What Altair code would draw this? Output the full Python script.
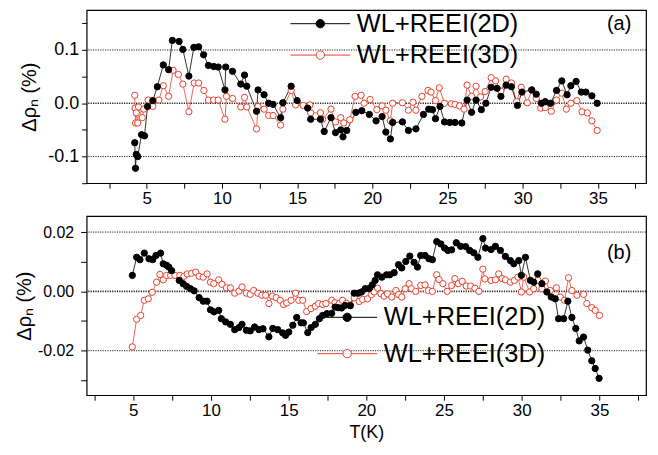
import altair as alt
import pandas as pd

S2 = "WL+REEI(2D)"
S3 = "WL+REEI(3D)"
RED = "#e8402a"
FONT = "Liberation Sans"

# ---------------- panel (a) ----------------
T_A2 = [4.2, 4.25, 4.3, 4.4, 4.65, 4.85, 5.05, 5.4, 5.7, 6.1, 6.45, 6.7, 7.15, 7.4, 7.8, 8.13, 8.45, 8.78,
        9.1, 9.45, 9.75, 10.2, 10.25, 10.7, 11.25, 11.5, 11.65, 12.3, 12.4, 12.8, 13.1, 13.4, 13.9, 14.05,
        14.6, 15.0, 15.7, 15.9, 16.55, 16.8, 17.25, 17.55, 17.9, 18.05, 18.3, 18.9, 19.3, 19.8, 20.25,
        20.65, 20.9, 21.2, 21.35, 22.0, 22.4, 22.9, 23.4, 23.75, 24.0, 24.2, 24.5, 24.8, 25.15, 25.5,
        25.95, 26.3, 26.6, 26.9, 27.25, 27.55, 27.9, 28.3, 28.55, 28.9, 29.25, 29.65, 29.95, 30.6, 30.9,
        31.25, 31.5, 31.85, 32.25, 32.6, 32.95, 33.2, 33.55, 33.9, 34.2, 34.6, 34.95]
V_A2 = [-0.074, -0.122, -0.096, -0.100, -0.059, -0.061, -0.006, 0.005, 0.031, 0.072, 0.063, 0.118, 0.116,
        0.101, 0.051, 0.105, 0.106, 0.091, 0.071, 0.069, 0.068, 0.025, 0.068, 0.060, 0.036, 0.053, 0.032,
        -0.015, 0.025, 0.016, 0.000, -0.002, -0.027, 0.001, 0.032, 0.005, -0.009, -0.030, -0.030, -0.053,
        -0.027, -0.055, -0.050, -0.063, -0.051, -0.017, -0.014, -0.021, -0.033, -0.025, -0.054, -0.067,
        -0.036, -0.035, -0.051, -0.048, -0.021, -0.011, -0.012, -0.029, -0.006, -0.035, -0.036, -0.036,
        -0.037, 0.006, -0.017, 0.006, -0.012, 0.000, 0.030, 0.028, 0.013, 0.034, 0.031, -0.004, 0.021,
        0.025, 0.017, 0.000, 0.003, 0.000, 0.024, 0.042, 0.016, 0.033, 0.041, 0.021, 0.021, 0.014, 0.000]

T_A3 = [4.2, 4.22, 4.25, 4.3, 4.4, 4.45, 4.7, 4.8, 5.1, 5.4, 5.8, 6.1, 6.45, 6.75, 7.1, 7.4, 7.8, 8.15, 8.45,
        8.8, 9.1, 9.45, 9.75, 10.2, 10.3, 10.7, 11.25, 11.5, 11.65, 12.3, 12.4, 12.8, 13.1, 13.4, 13.9,
        14.05, 14.6, 14.9, 15.4, 15.85, 15.9, 16.55, 16.7, 17.25, 17.55, 17.9, 18.1, 18.5, 18.85, 19.25,
        19.45, 19.85, 20.3, 20.65, 20.9, 21.2, 21.35, 22.0, 22.4, 22.7, 22.9, 23.3, 23.7, 23.9, 24.2,
        24.45, 24.8, 25.25, 25.5, 25.8, 26.1, 26.3, 26.6, 26.9, 27.2, 27.5, 27.9, 28.2, 28.55, 28.9, 29.25,
        29.6, 29.9, 30.3, 30.6, 30.9, 31.2, 31.5, 31.9, 32.25, 32.6, 32.9, 33.2, 33.6, 33.95, 34.3, 34.6,
        34.95]
V_A3 = [0.015, -0.009, -0.037, -0.018, -0.037, -0.007, -0.027, -0.011, 0.006, -0.006, 0.006, 0.033, 0.013,
        0.062, 0.054, 0.036, -0.016, 0.038, 0.038, 0.024, 0.006, 0.006, 0.006, -0.030, 0.013, 0.009,
        -0.007, 0.011, -0.007, -0.048, -0.006, -0.011, -0.023, -0.023, -0.041, -0.011, 0.024, -0.003,
        -0.004, -0.003, -0.018, -0.018, -0.030, -0.011, -0.035, -0.027, -0.037, -0.031, 0.013, 0.015,
        0.000, 0.007, -0.012, -0.005, -0.013, -0.033, 0.000, 0.001, -0.013, 0.002, -0.013, 0.013, 0.024,
        0.021, 0.005, 0.029, 0.000, -0.001, -0.002, -0.005, -0.011, 0.034, 0.013, 0.032, 0.012, 0.022,
        0.048, 0.042, 0.023, 0.045, 0.038, 0.003, 0.030, 0.001, 0.025, 0.009, -0.009, -0.008, -0.015,
        0.006, 0.019, -0.011, 0.000, 0.005, -0.016, -0.018, -0.033, -0.051]

# ---------------- panel (b) ----------------
T_B2 = [4.94, 5.22, 5.43, 5.71, 6.01, 6.25, 6.46, 6.76, 6.93, 7.15, 7.29, 7.47, 7.96, 8.21, 8.43, 8.68, 8.92,
        9.24, 9.5, 9.75, 9.97, 10.2, 10.5, 10.67, 10.95, 11.25, 11.53, 11.8, 12.0, 12.28, 12.53, 12.81,
        13.09, 13.35, 13.73, 13.98, 14.3, 14.62, 14.8, 15.01, 15.27, 15.52, 15.8, 15.95, 16.23, 16.45,
        16.72, 16.98, 17.19, 17.47, 17.77, 17.99, 18.2, 18.41, 18.65, 18.97, 19.22, 19.48, 19.69, 19.93,
        20.19, 20.38, 20.57, 20.72, 21.0, 21.3, 21.51, 21.79, 22.07, 22.28, 22.54, 22.8, 23.07, 23.29,
        23.5, 23.78, 24.03, 24.25, 24.53, 24.79, 25.04, 25.25, 25.49, 25.79, 26.07, 26.39, 26.65, 26.92,
        27.18, 27.5, 27.67, 28.03, 28.31, 28.63, 28.95, 29.27, 29.49, 29.81, 29.98, 30.24, 30.56, 30.77,
        31.03, 31.3, 31.62, 31.9, 32.16, 32.37, 32.7, 32.97, 33.23, 33.48, 33.7, 33.98, 34.25, 34.51,
        34.73, 34.98]
V_B2 = [0.0054, 0.0115, 0.0107, 0.0129, 0.0110, 0.0107, 0.0121, 0.0129, 0.0093, 0.0088, 0.0082, 0.0070,
        0.0037, 0.0026, 0.0017, 0.0009, 0.0002, -0.0021, -0.0033, -0.0033, -0.0062, -0.0069, -0.0064,
        -0.0092, -0.0103, -0.0111, -0.0129, -0.0122, -0.0111, -0.0131, -0.0133, -0.0120, -0.0129, -0.0126,
        -0.0153, -0.0125, -0.0129, -0.0140, -0.0148, -0.0137, -0.0114, -0.0088, -0.0106, -0.0106, -0.0139,
        -0.0122, -0.0111, -0.0092, -0.0081, -0.0075, -0.0074, -0.0053, -0.0055, -0.0056, -0.0047, -0.0048,
        -0.0006, -0.0006, -0.0002, 0.0009, 0.0010, 0.0022, 0.0037, 0.0056, 0.0048, 0.0056, 0.0056, 0.0063,
        0.0090, 0.0079, 0.0101, 0.0119, 0.0098, 0.0082, 0.0121, 0.0121, 0.0110, 0.0107, 0.0168, 0.0160,
        0.0146, 0.0138, 0.0140, 0.0164, 0.0152, 0.0151, 0.0138, 0.0130, 0.0115, 0.0178, 0.0146, 0.0141,
        0.0152, 0.0138, 0.0118, 0.0104, 0.0093, 0.0104, 0.0054, 0.0115, 0.0037, 0.0031, 0.0059, 0.0026,
        -0.0002, -0.0019, -0.0025, -0.0092, -0.0092, -0.0033, -0.0088, -0.0125, -0.0167, -0.0154, -0.0198,
        -0.0234, -0.0260, -0.0293]

T_B3 = [4.94, 5.22, 5.48, 5.71, 5.97, 6.22, 6.5, 6.72, 6.93, 7.15, 7.4, 7.68, 8.0, 8.26, 8.47, 8.75, 9.02,
        9.24, 9.5, 9.75, 9.97, 10.18, 10.5, 10.71, 11.0, 11.25, 11.53, 11.8, 12.0, 12.28, 12.53, 12.75,
        13.02, 13.28, 13.52, 13.73, 13.95, 14.2, 14.46, 14.67, 14.88, 15.16, 15.44, 15.65, 15.91, 16.16,
        16.44, 16.72, 16.93, 17.19, 17.4, 17.77, 17.99, 18.26, 18.47, 18.72, 18.97, 19.22, 19.54, 19.76,
        20.08, 20.33, 20.5, 20.72, 20.94, 21.15, 21.36, 21.64, 21.9, 22.07, 22.28, 22.5, 22.75, 22.9,
        23.18, 23.5, 23.78, 24.0, 24.25, 24.53, 24.68, 24.93, 25.2, 25.49, 25.7, 25.92, 26.17, 26.43,
        26.71, 26.99, 27.25, 27.5, 27.63, 28.03, 28.31, 28.52, 28.74, 28.95, 29.27, 29.53, 29.76, 29.98,
        30.13, 30.51, 30.77, 31.05, 31.3, 31.52, 31.84, 32.23, 32.48, 32.76, 33.01, 33.23, 33.55, 33.98,
        34.19, 34.51, 34.73, 35.0]
V_B3 = [-0.0187, -0.0094, -0.0081, -0.0030, -0.0025, -0.0003, 0.0031, 0.0057, 0.0039, 0.0054, 0.0054,
        0.0054, 0.0054, 0.0051, 0.0059, 0.0061, 0.0065, 0.0051, 0.0048, 0.0059, 0.0031, 0.0026, 0.0039,
        0.0024, 0.0012, 0.0012, -0.0006, 0.0001, 0.0015, -0.0006, -0.0010, 0.0003, -0.0006, -0.0013,
        -0.0013, -0.0041, -0.0016, -0.0021, -0.0030, -0.0044, -0.0039, -0.0030, -0.0006, -0.0030, -0.0030,
        -0.0068, -0.0058, -0.0050, -0.0041, -0.0044, -0.0041, -0.0030, -0.0038, -0.0041, -0.0030, -0.0040,
        -0.0047, -0.0022, -0.0034, -0.0027, -0.0025, -0.0011, -0.0002, 0.0011, -0.0008, -0.0016, -0.0008,
        -0.0019, 0.0003, -0.0010, -0.0019, 0.0009, 0.0026, 0.0009, 0.0000, 0.0020, 0.0022, 0.0003, 0.0000,
        0.0056, 0.0040, 0.0026, 0.0000, 0.0020, 0.0043, 0.0026, 0.0034, 0.0018, 0.0018, 0.0011, 0.0000,
        0.0075, 0.0042, 0.0037, 0.0039, 0.0059, 0.0043, 0.0039, 0.0031, 0.0037, 0.0048, -0.0002, 0.0048,
        -0.0002, 0.0009, 0.0037, 0.0009, 0.0035, 0.0003, 0.0012, -0.0019, -0.0030, 0.0046, 0.0003, -0.0013,
        -0.0010, -0.0041, -0.0055, -0.0064, -0.0081]

X_TICKS = [2.5, 5, 7.5, 10, 12.5, 15, 17.5, 20, 22.5, 25, 27.5, 30, 32.5, 35, 37.5]
Y_TICKS_A = [-0.15, -0.1, -0.05, 0.0, 0.05, 0.1, 0.15]
Y_TICKS_B = [-0.03, -0.02, -0.01, 0.0, 0.01, 0.02]
GRID_A = [-0.1, 0.0, 0.1]
GRID_B = [-0.02, 0.0, 0.02]

LEGEND_PATH = "M-3,0H-0.42M0.42,0H3M0.42,0A0.42,0.42,0,1,1,-0.42,0A0.42,0.42,0,1,1,0.42,0Z"


def make_df(t2, v2, t3, v3):
    d3 = pd.DataFrame({"T": t3, "v": v3, "series": S3, "o": 0})
    d2 = pd.DataFrame({"T": t2, "v": v2, "series": S2, "o": 1})
    return pd.concat([d3, d2], ignore_index=True)


def panel(df, xdom, ydom, yticks, yfmt, ylabel_test, grid, legx, legy, rowpad, tag, tagy, height,
          xtitle, ylab_size, ytick, ylab_pad, ytitle_pad):
    xenc = alt.X("T:Q", scale=alt.Scale(domain=xdom, nice=False, zero=False),
                 axis=alt.Axis(values=X_TICKS, format="d",
                               labelExpr="datum.value % 5 == 0 ? datum.label : ''",
                               title=xtitle, titleFontSize=18, titlePadding=5,
                               labelFontSize=17, tickSize=5, labelPadding=2))
    yenc = alt.Y("v:Q", scale=alt.Scale(domain=ydom, nice=False, zero=False),
                 axis=alt.Axis(values=yticks, format=yfmt,
                               labelExpr="(" + ylabel_test + ") ? replace(datum.label, '\u2212', '-') : ''",
                               title="\u0394\u03c1\u2099 (%)", titleFontSize=20,
                               titlePadding=ytitle_pad, labelFontSize=ylab_size,
                               tickSize=ytick, labelPadding=ylab_pad))
    leg = alt.Legend(title=None, orient="none", legendX=legx, legendY=legy,
                     symbolType=LEGEND_PATH, symbolSize=400, symbolStrokeWidth=1,
                     symbolOpacity=1, labelFontSize=25.5, labelFont=FONT, labelColor="black",
                     labelLimit=0, rowPadding=rowpad, labelOffset=24, symbolOffset=0)
    stroke = alt.Stroke("series:N", scale=alt.Scale(domain=[S2, S3], range=["black", RED]), legend=leg)
    fill = alt.Fill("series:N", scale=alt.Scale(domain=[S2, S3], range=["black", "white"]), legend=leg)

    gdf = pd.DataFrame({"v": grid, "w": [1.6 if g == 0 else 1.0 for g in grid]})
    grid_layer = alt.Chart(gdf).mark_rule(strokeDash=[1.2, 1.2], color="#222").encode(
        y=yenc, strokeWidth=alt.StrokeWidth("w:Q", scale=None, legend=None))
    lines = alt.Chart(df).mark_line(strokeWidth=0.8).encode(
        x=xenc, y=yenc, stroke=stroke, order="T:Q")
    pts = alt.Chart(df).mark_point(shape="circle", size=40, opacity=1, fillOpacity=1,
                                   strokeWidth=1).encode(
        x=xenc, y=yenc, stroke=stroke, fill=fill, order="o:Q")
    tag_layer = alt.Chart(pd.DataFrame({"t": [tag]})).mark_text(
        fontSize=20, font=FONT, align="center", baseline="middle", color="black").encode(
        text="t:N", x=alt.value(535), y=alt.value(tagy))
    return alt.layer(grid_layer, lines, pts, tag_layer).properties(width=562, height=height)


top = panel(make_df(T_A2, V_A2, T_A3, V_A3), [1, 38.2], [-0.15, 0.175], Y_TICKS_A, ".1f",
            "abs(datum.value*10 - round(datum.value*10)) < 1e-6", GRID_A,
            222, 1, 4.5, "(a)", 14, 174, None, 18, 5, 3, 8)
bot = panel(make_df(T_B2, V_B2, T_B3, V_B3), [2, 38], [-0.035, 0.0254], Y_TICKS_B, ".2f",
            "abs(datum.value) < 1e-9 || abs(abs(datum.value) - 0.02) < 1e-9", GRID_B,
            249, 89, 9.5, "(b)", 37, 180, "T(K)", 16, 6, 7, 3)

chart = alt.vconcat(top, bot, spacing=8).resolve_scale(
    stroke="independent", fill="independent", strokeWidth="independent"
).resolve_legend(
    stroke="independent", fill="independent"
).properties(
    padding={"left": 5, "top": 0, "right": 2, "bottom": 2}
).configure_view(stroke="black", strokeWidth=1.2).configure_axis(
    domain=False, ticks=True, tickColor="black", tickWidth=1, labelColor="black",
    labelFont=FONT, titleFont=FONT, titleColor="black", titleFontWeight="normal", grid=False
)

chart.save("out.html", embed_options={"renderer": "svg", "actions": False})
